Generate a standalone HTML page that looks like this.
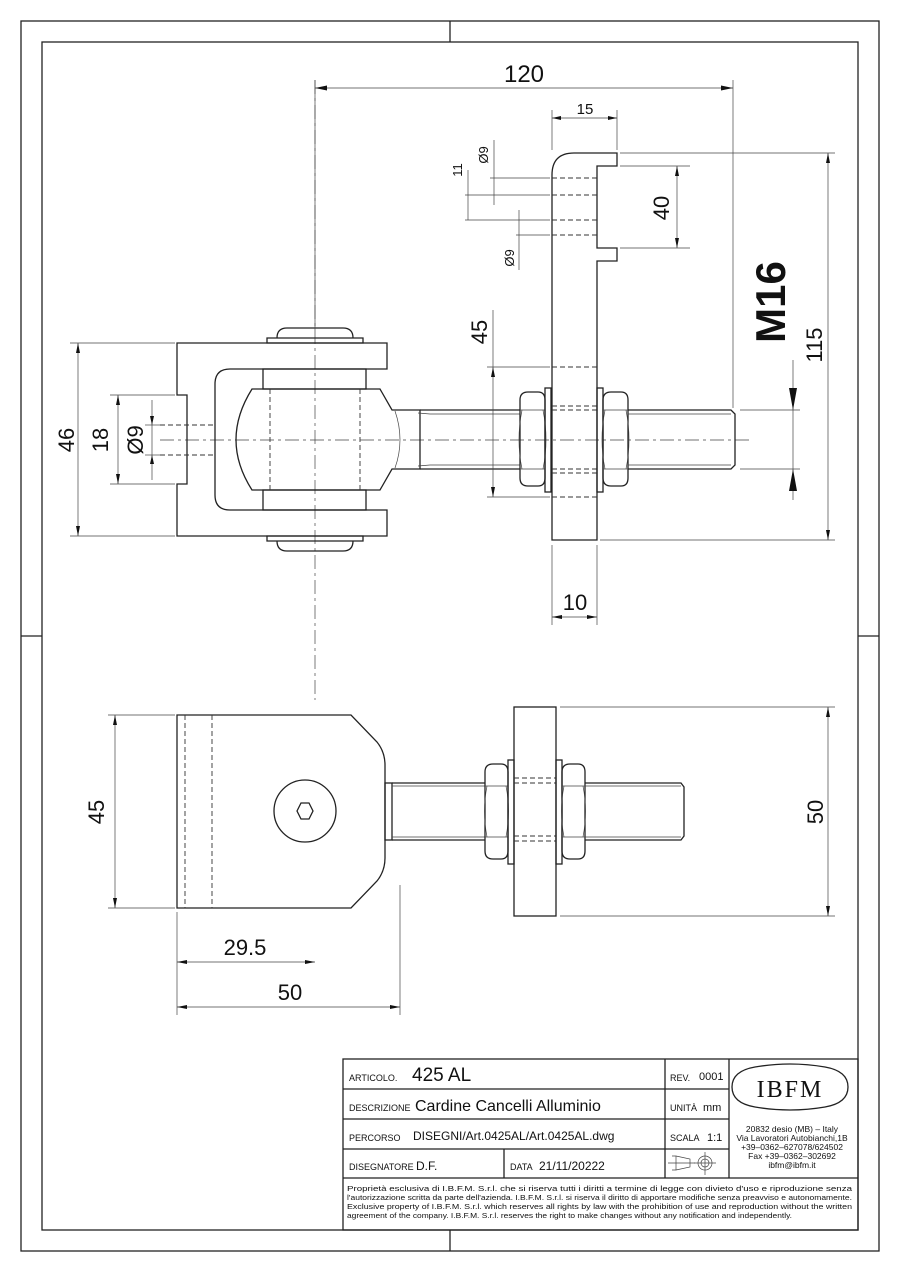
<!DOCTYPE html>
<html><head><meta charset="utf-8"><style>
html,body{margin:0;padding:0;background:#fff}
svg{display:block}
text{font-family:"Liberation Sans",sans-serif;fill:#111}
.l{stroke:#222;stroke-width:1.3;fill:none}
.t{stroke:#444;stroke-width:0.7;fill:none}
.d{stroke:#333;stroke-width:0.9;fill:none;stroke-dasharray:5 3}
.c{stroke:#444;stroke-width:0.7;fill:none;stroke-dasharray:14 4 3 4}
.a{fill:#111;stroke:none}
</style></head><body>
<svg width="900" height="1273" viewBox="0 0 900 1273" xmlns="http://www.w3.org/2000/svg">
<!-- frames -->
<rect x="21" y="21" width="858" height="1230" class="l" stroke-width="1.2"/>
<rect x="42" y="42" width="816" height="1188" class="l"/>
<line x1="450" y1="21" x2="450" y2="42" class="l"/>
<line x1="450" y1="1230" x2="450" y2="1251" class="l"/>
<line x1="21" y1="636" x2="42" y2="636" class="l"/>
<line x1="858" y1="636" x2="879" y2="636" class="l"/>

<!-- ===== TOP VIEW ===== -->
<line x1="160" y1="440" x2="752" y2="440" class="c"/>
<line x1="315" y1="80" x2="315" y2="700" class="c"/>
<path class="l" d="M177,343 H387 V369 H230 Q215,369 215,384 V495 Q215,510 230,510 H387 V536 H177 V484 H187 V395 H177 Z"/>
<line x1="160" y1="425" x2="215" y2="425" class="d"/>
<line x1="160" y1="455" x2="215" y2="455" class="d"/>
<path class="l" d="M267,338 H363 V343 H267 Z M277,338 Q277,328 287,328 H343 Q353,328 353,338"/>
<path class="l" d="M267,536 H363 V541 H267 Z M277,541 Q277,551 287,551 H343 Q353,551 353,541"/>
<rect x="263" y="369" width="103" height="20" class="l"/>
<rect x="263" y="490" width="103" height="20" class="l"/>
<path class="l" d="M252,389 H380 L392,410 H420 V469 H392 L380,490 H252 Q220,440 252,389 Z"/>
<path class="t" d="M395,411 Q405,440 395,468"/>
<line x1="270" y1="389" x2="270" y2="490" class="d"/>
<line x1="360" y1="389" x2="360" y2="490" class="d"/>
<path class="l" d="M420,410 H520 M420,469 H520"/>
<path class="t" d="M418,413 L430,414 H520 M418,466 L430,465 H520"/>
<path class="l" d="M520,400 Q520,392 528,392 H538 Q545,392 545,400 V478 Q545,486 538,486 H528 Q520,486 520,478 Z"/>
<path class="t" d="M520,410 H545 M520,469 H545 M522,410 Q516,440 522,469 M543,410 Q549,440 543,469"/>
<rect x="545" y="388" width="6" height="104" class="l"/>
<path class="l" d="M552,540 V175 Q552,153 574,153 H617 V166 H597 V248 H617 V261 H597 V540 Z"/>
<line x1="552" y1="178" x2="597" y2="178" class="d"/>
<line x1="552" y1="195" x2="597" y2="195" class="d"/>
<line x1="552" y1="220" x2="597" y2="220" class="d"/>
<line x1="552" y1="235" x2="597" y2="235" class="d"/>
<line x1="552" y1="367" x2="597" y2="367" class="d"/>
<line x1="552" y1="406" x2="597" y2="406" class="d"/>
<line x1="552" y1="410" x2="597" y2="410" class="d"/>
<line x1="552" y1="469" x2="597" y2="469" class="d"/>
<line x1="552" y1="473" x2="597" y2="473" class="d"/>
<line x1="552" y1="497" x2="597" y2="497" class="d"/>
<rect x="597" y="388" width="6" height="104" class="l"/>
<path class="l" d="M603,400 Q603,392 611,392 H621 Q628,392 628,400 V478 Q628,486 621,486 H611 Q603,486 603,478 Z"/>
<path class="t" d="M603,410 H628 M603,469 H628 M605,410 Q599,440 605,469 M626,410 Q632,440 626,469"/>
<path class="l" d="M628,410 H731 L735,414 V465 L731,469 H628"/>
<path class="t" d="M628,414 H731 M628,465 H731"/>

<!-- top dims -->
<line x1="315" y1="80" x2="315" y2="330" class="t"/>
<line x1="733" y1="80" x2="733" y2="408" class="t"/>
<line x1="315" y1="88" x2="733" y2="88" class="t"/>
<path class="a" d="M315,88 l12,-2.5 v5z M733,88 l-12,-2.5 v5z"/>
<text x="524" y="82" font-size="24" text-anchor="middle">120</text>
<line x1="552" y1="110" x2="552" y2="150" class="t"/>
<line x1="617" y1="110" x2="617" y2="150" class="t"/>
<line x1="552" y1="118" x2="617" y2="118" class="t"/>
<path class="a" d="M552,118 l9,-2 v4z M617,118 l-9,-2 v4z"/>
<text x="585" y="114" font-size="15" text-anchor="middle">15</text>
<line x1="620" y1="166" x2="690" y2="166" class="t"/>
<line x1="620" y1="248" x2="690" y2="248" class="t"/>
<line x1="677" y1="166" x2="677" y2="248" class="t"/>
<path class="a" d="M677,166 l-2,10 h4z M677,248 l-2,-10 h4z"/>
<text transform="translate(669,208) rotate(-90)" font-size="22" text-anchor="middle">40</text>
<line x1="465" y1="195" x2="550" y2="195" class="t"/>
<line x1="465" y1="220" x2="550" y2="220" class="t"/>
<line x1="490" y1="178" x2="550" y2="178" class="t"/>
<line x1="516" y1="235" x2="550" y2="235" class="t"/>
<line x1="468" y1="170" x2="468" y2="220" class="t"/>
<line x1="494" y1="140" x2="494" y2="205" class="t"/>
<line x1="519" y1="210" x2="519" y2="270" class="t"/>
<text transform="translate(462,170) rotate(-90)" font-size="13" text-anchor="middle">11</text>
<text transform="translate(488,155) rotate(-90)" font-size="13" text-anchor="middle">Ø9</text>
<text transform="translate(514,258) rotate(-90)" font-size="13" text-anchor="middle">Ø9</text>
<line x1="487" y1="367" x2="550" y2="367" class="t"/>
<line x1="487" y1="497" x2="550" y2="497" class="t"/>
<line x1="493" y1="310" x2="493" y2="497" class="t"/>
<path class="a" d="M493,367 l-2,10 h4z M493,497 l-2,-10 h4z"/>
<text transform="translate(487,332) rotate(-90)" font-size="22" text-anchor="middle">45</text>
<line x1="620" y1="153" x2="835" y2="153" class="t"/>
<line x1="600" y1="540" x2="835" y2="540" class="t"/>
<line x1="740" y1="410" x2="800" y2="410" class="t"/>
<line x1="740" y1="469" x2="800" y2="469" class="t"/>
<line x1="828" y1="153" x2="828" y2="540" class="t"/>
<path class="a" d="M828,153 l-2,10 h4z M828,540 l-2,-10 h4z"/>
<text transform="translate(822,345) rotate(-90)" font-size="22" text-anchor="middle">115</text>
<line x1="793" y1="360" x2="793" y2="500" class="t"/>
<path class="a" d="M793,410 l-4,-22 h8z M793,469 l-4,22 h8z"/>
<text transform="translate(785,302) rotate(-90)" font-size="42" font-weight="bold" text-anchor="middle">M16</text>
<line x1="552" y1="545" x2="552" y2="625" class="t"/>
<line x1="597" y1="545" x2="597" y2="625" class="t"/>
<line x1="552" y1="617" x2="597" y2="617" class="t"/>
<path class="a" d="M552,617 l10,-2 v4z M597,617 l-10,-2 v4z"/>
<text x="575" y="610" font-size="22" text-anchor="middle">10</text>
<line x1="70" y1="343" x2="175" y2="343" class="t"/>
<line x1="70" y1="536" x2="175" y2="536" class="t"/>
<line x1="78" y1="343" x2="78" y2="536" class="t"/>
<path class="a" d="M78,343 l-2,10 h4z M78,536 l-2,-10 h4z"/>
<text transform="translate(74,440) rotate(-90)" font-size="22" text-anchor="middle">46</text>
<line x1="110" y1="395" x2="175" y2="395" class="t"/>
<line x1="110" y1="484" x2="175" y2="484" class="t"/>
<line x1="118" y1="395" x2="118" y2="484" class="t"/>
<path class="a" d="M118,395 l-2,10 h4z M118,484 l-2,-10 h4z"/>
<text transform="translate(108,440) rotate(-90)" font-size="22" text-anchor="middle">18</text>
<line x1="145" y1="425" x2="160" y2="425" class="t"/>
<line x1="145" y1="455" x2="160" y2="455" class="t"/>
<line x1="152" y1="400" x2="152" y2="480" class="t"/>
<path class="a" d="M152,425 l-2,-9 h4z M152,455 l-2,9 h4z"/>
<text transform="translate(143,440) rotate(-90)" font-size="22" text-anchor="middle">Ø9</text>

<!-- ===== BOTTOM VIEW ===== -->
<path class="l" d="M177,715 H351 L377,742 Q385,752 385,765 V858 Q385,871 377,881 L351,908 H177 Z"/>
<line x1="185" y1="715" x2="185" y2="908" class="d"/>
<line x1="212" y1="715" x2="212" y2="908" class="d"/>
<circle cx="305" cy="811" r="31" class="l" stroke-width="1.1"/>
<polygon class="l" stroke-width="1" points="297,811 301,803 309,803 313,811 309,819 301,819"/>
<rect x="385" y="783" width="7" height="57" class="l"/>
<path class="l" d="M392,783 H485 M392,840 H485"/>
<path class="t" d="M392,786 H485 M392,837 H485"/>
<path class="l" d="M485,772 Q485,764 493,764 H501 Q508,764 508,772 V851 Q508,859 501,859 H493 Q485,859 485,851 Z"/>
<path class="t" d="M485,786 H508 M485,837 H508 M487,786 Q482,811 487,837 M506,786 Q511,811 506,837"/>
<rect x="508" y="760" width="6" height="104" class="l"/>
<rect x="514" y="707" width="42" height="209" class="l"/>
<line x1="514" y1="778" x2="556" y2="778" class="d"/>
<line x1="514" y1="783" x2="556" y2="783" class="d"/>
<line x1="514" y1="836" x2="556" y2="836" class="d"/>
<line x1="514" y1="841" x2="556" y2="841" class="d"/>
<rect x="556" y="760" width="6" height="104" class="l"/>
<path class="l" d="M562,772 Q562,764 570,764 H578 Q585,764 585,772 V851 Q585,859 578,859 H570 Q562,859 562,851 Z"/>
<path class="t" d="M562,786 H585 M562,837 H585 M564,786 Q559,811 564,837 M583,786 Q588,811 583,837"/>
<path class="l" d="M585,783 H681 L684,787 V836 L681,840 H585"/>
<path class="t" d="M585,786 H681 M585,837 H681"/>
<line x1="108" y1="715" x2="175" y2="715" class="t"/>
<line x1="108" y1="908" x2="175" y2="908" class="t"/>
<line x1="115" y1="715" x2="115" y2="908" class="t"/>
<path class="a" d="M115,715 l-2,10 h4z M115,908 l-2,-10 h4z"/>
<text transform="translate(104,812) rotate(-90)" font-size="22" text-anchor="middle">45</text>
<line x1="560" y1="707" x2="835" y2="707" class="t"/>
<line x1="560" y1="916" x2="835" y2="916" class="t"/>
<line x1="828" y1="707" x2="828" y2="916" class="t"/>
<path class="a" d="M828,707 l-2,10 h4z M828,916 l-2,-10 h4z"/>
<text transform="translate(823,812) rotate(-90)" font-size="22" text-anchor="middle">50</text>
<line x1="177" y1="912" x2="177" y2="1015" class="t"/>
<line x1="400" y1="885" x2="400" y2="1015" class="t"/>
<line x1="177" y1="962" x2="315" y2="962" class="t"/>
<path class="a" d="M177,962 l10,-2 v4z M315,962 l-10,-2 v4z"/>
<text x="245" y="955" font-size="22" text-anchor="middle">29.5</text>
<line x1="177" y1="1007" x2="400" y2="1007" class="t"/>
<path class="a" d="M177,1007 l10,-2 v4z M400,1007 l-10,-2 v4z"/>
<text x="290" y="1000" font-size="22" text-anchor="middle">50</text>

<!-- ===== TITLE BLOCK ===== -->
<rect x="343" y="1059" width="515" height="171" class="l"/>
<line x1="343" y1="1089" x2="729" y2="1089" class="l"/>
<line x1="343" y1="1119" x2="729" y2="1119" class="l"/>
<line x1="343" y1="1149" x2="729" y2="1149" class="l"/>
<line x1="343" y1="1178" x2="858" y2="1178" class="l"/>
<line x1="665" y1="1059" x2="665" y2="1178" class="l"/>
<line x1="729" y1="1059" x2="729" y2="1178" class="l"/>
<line x1="504" y1="1149" x2="504" y2="1178" class="l"/>
<text x="349" y="1081" font-size="9">ARTICOLO.</text>
<text x="412" y="1081" font-size="19" fill="#333">425 AL</text>
<text x="349" y="1111" font-size="9">DESCRIZIONE</text>
<text x="415" y="1111" font-size="16">Cardine Cancelli Alluminio</text>
<text x="349" y="1141" font-size="9">PERCORSO</text>
<text x="413" y="1140" font-size="12">DISEGNI/Art.0425AL/Art.0425AL.dwg</text>
<text x="349" y="1170" font-size="9">DISEGNATORE</text>
<text x="416" y="1170" font-size="12">D.F.</text>
<text x="510" y="1170" font-size="9">DATA</text>
<text x="539" y="1170" font-size="12">21/11/20222</text>
<text x="670" y="1081" font-size="9">REV.</text>
<text x="699" y="1080" font-size="11">0001</text>
<text x="670" y="1111" font-size="9">UNITÀ</text>
<text x="703" y="1111" font-size="11">mm</text>
<text x="670" y="1141" font-size="9">SCALA</text>
<text x="707" y="1141" font-size="11">1:1</text>
<path class="t" stroke-width="1" d="M672,1156 H676 V1170 H672 M676,1156 L690,1159 V1167 L676,1170 M668,1163 H695"/>
<circle cx="705" cy="1163" r="7" class="t" stroke-width="1"/>
<circle cx="705" cy="1163" r="4" class="t" stroke-width="1"/>
<line x1="694" y1="1163" x2="716" y2="1163" class="t"/>
<line x1="705" y1="1152" x2="705" y2="1175" class="t"/>
<path class="l" d="M755,1067 Q790,1061 825,1067 Q848,1071 848,1087 Q848,1103 825,1107 Q790,1113 755,1107 Q732,1103 732,1087 Q732,1071 755,1067 Z"/>
<text x="790" y="1097" font-size="24" text-anchor="middle" style="font-family:'Liberation Serif',serif" letter-spacing="2">IBFM</text>
<text x="792" y="1132" font-size="8.5" text-anchor="middle">20832 desio (MB) – Italy</text>
<text x="792" y="1141" font-size="8.5" text-anchor="middle">Via Lavoratori Autobianchi,1B</text>
<text x="792" y="1150" font-size="8.5" text-anchor="middle">+39–0362–627078/624502</text>
<text x="792" y="1159" font-size="8.5" text-anchor="middle">Fax +39–0362–302692</text>
<text x="792" y="1168" font-size="8.5" text-anchor="middle">ibfm@ibfm.it</text>
<text font-size="7.4" textLength="505" lengthAdjust="spacingAndGlyphs" x="347" y="1191">Proprietà esclusiva di I.B.F.M. S.r.l. che si riserva tutti i diritti a termine di legge con divieto d'uso e riproduzione senza</text>
<text font-size="7.4" textLength="505" lengthAdjust="spacingAndGlyphs" x="347" y="1200">l'autorizzazione scritta da parte dell'azienda. I.B.F.M. S.r.l. si riserva il diritto di apportare modifiche senza preavviso e autonomamente.</text>
<text font-size="7.4" textLength="505" lengthAdjust="spacingAndGlyphs" x="347" y="1209">Exclusive property of I.B.F.M. S.r.l. which reserves all rights by law with the prohibition of use and reproduction without the written</text>
<text font-size="7.4" textLength="445" lengthAdjust="spacingAndGlyphs" x="347" y="1218">agreement of the company. I.B.F.M. S.r.l. reserves the right to make changes without any notification and independently.</text>
</svg>
</body></html>
